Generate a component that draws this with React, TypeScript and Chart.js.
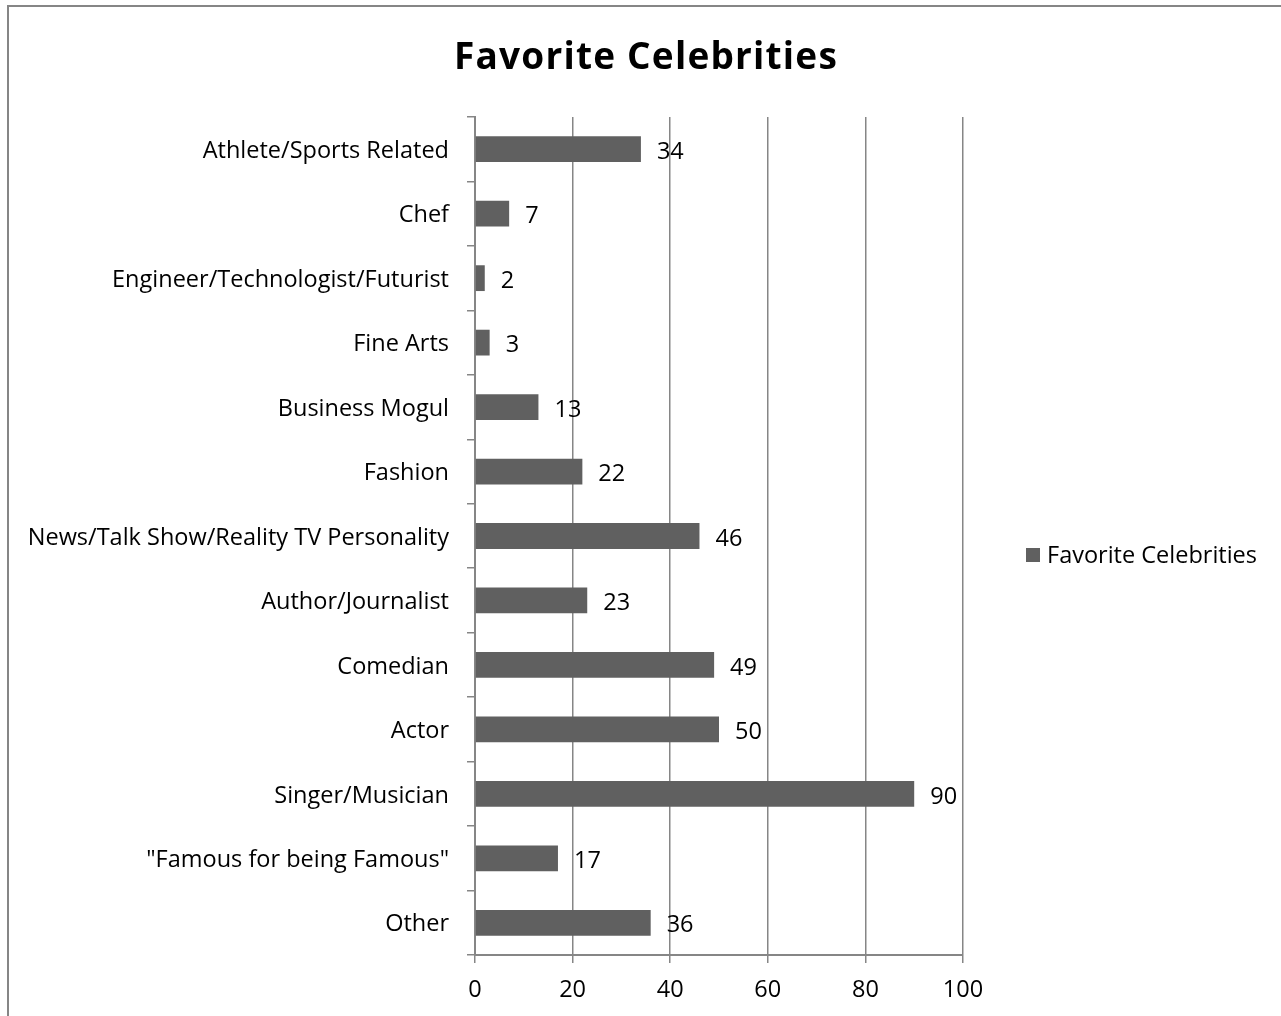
import React, { useEffect, useRef } from "react";
import { Chart, registerables } from "chart.js";

Chart.register(...registerables);

const categories = [
  "Athlete/Sports Related",
  "Chef",
  "Engineer/Technologist/Futurist",
  "Fine Arts",
  "Business Mogul",
  "Fashion",
  "News/Talk Show/Reality TV Personality",
  "Author/Journalist",
  "Comedian",
  "Actor",
  "Singer/Musician",
  "\"Famous for being Famous\"",
  "Other",
];
const values = [34, 7, 2, 3, 13, 22, 46, 23, 49, 50, 90, 17, 36];
const seriesName = "Favorite Celebrities";
const chartTitle = "Favorite Celebrities";

const FONT = "'Open Sans', sans-serif";
const FS = 23.5;
const BAR = "#606060";
const AXIS = "#868686";

const framePlugin = {
  id: "frame",
  beforeDraw(chart: any) {
    const ctx = chart.ctx;
    ctx.save();
    ctx.fillStyle = "#ffffff";
    ctx.fillRect(0, 0, chart.width, chart.height);
    ctx.strokeStyle = AXIS;
    ctx.lineWidth = 2;
    ctx.beginPath();
    ctx.moveTo(8, chart.height + 5);
    ctx.lineTo(8, 6);
    ctx.lineTo(chart.width + 5, 6);
    ctx.stroke();
    ctx.restore();
  },
};

const decorPlugin = {
  id: "decor",
  afterDraw(chart: any) {
    const ctx = chart.ctx;
    ctx.save();
    // title
    ctx.fillStyle = "#000";
    ctx.font = `bold 37px ${FONT}`;
    (ctx as any).letterSpacing = "1.2px";
    ctx.textAlign = "center";
    ctx.textBaseline = "middle";
    ctx.fillText(chartTitle, 646, 58);
    (ctx as any).letterSpacing = "0px";
    // data labels
    ctx.font = `${FS}px ${FONT}`;
    ctx.textAlign = "left";
    const meta = chart.getDatasetMeta(0);
    meta.data.forEach((bar: any, i: number) => {
      ctx.fillText(String(values[i]), bar.x + 16, bar.y + 3);
    });
    // legend
    ctx.fillStyle = BAR;
    ctx.fillRect(1026, 548, 14, 14);
    ctx.fillStyle = "#000";
    ctx.fillText(seriesName, 1047, 556);
    ctx.restore();
  },
};

export default function App() {
  const ref = useRef<HTMLCanvasElement | null>(null);
  useEffect(() => {
    if (!ref.current) return;
    const chart = new Chart(ref.current, {
      type: "bar",
      data: {
        labels: categories,
        datasets: [
          {
            label: seriesName,
            data: values,
            backgroundColor: BAR,
            borderWidth: 0,
            categoryPercentage: 1,
            barPercentage: 0.4,
          },
        ],
      },
      options: {
        indexAxis: "y",
        animation: false,
        responsive: false,
        devicePixelRatio: 1,
        layout: { padding: { top: 117, left: 0, right: 318, bottom: 0 } },
        plugins: {
          legend: { display: false },
          title: { display: false },
          tooltip: { enabled: false },
        },
        scales: {
          x: {
            min: 0,
            max: 100,
            ticks: { stepSize: 20, color: "#000", font: { family: FONT, size: FS }, padding: 13 },
            grid: { color: AXIS, lineWidth: 1.5, tickLength: 8, drawTicks: true },
            border: { color: AXIS, width: 2 },
            afterFit(scale: any) {
              scale.height = 61;
            },
          },
          y: {
            ticks: { color: "#000", font: { family: FONT, size: FS }, padding: 18, autoSkip: false, labelOffset: 2 },
            grid: { drawOnChartArea: false, color: AXIS, lineWidth: 1.5, tickLength: 8, offset: true },
            border: { color: AXIS, width: 2 },
            afterFit(scale: any) {
              scale.width = 475;
            },
          },
        },
      },
      plugins: [framePlugin, decorPlugin],
    });
    return () => chart.destroy();
  }, []);
  return (
    <div style={{ position: "fixed", left: 0, top: 0, width: 1281, height: 1016 }}>
      <canvas ref={ref} width={1281} height={1016} style={{ width: 1281, height: 1016, display: "block" }} />
    </div>
  );
}
